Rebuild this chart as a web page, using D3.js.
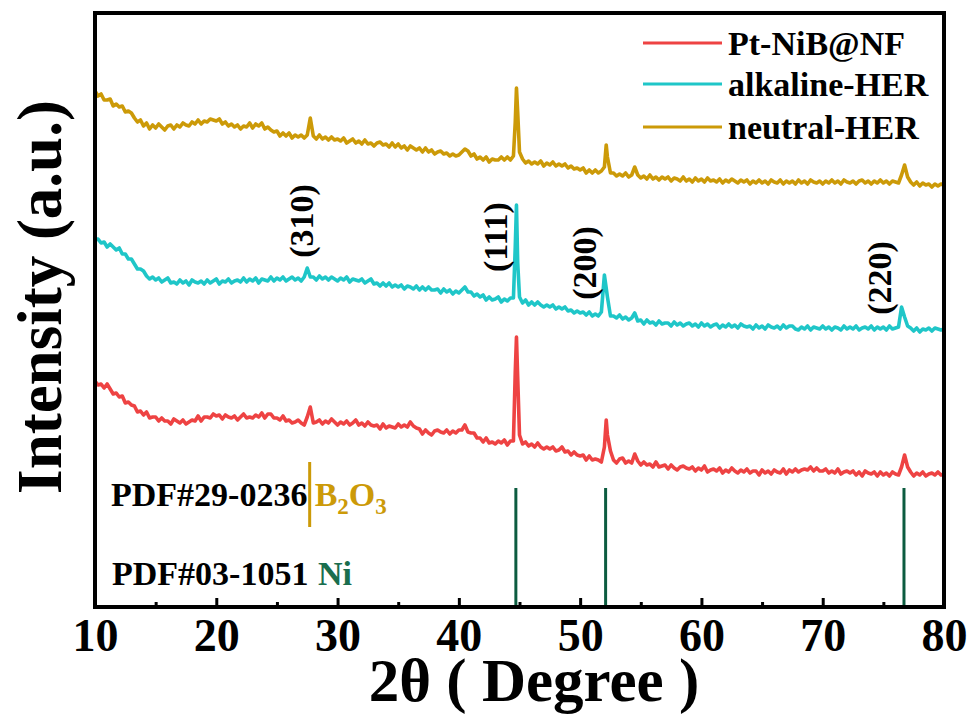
<!DOCTYPE html>
<html>
<head>
<meta charset="utf-8">
<script src="https://cdn.jsdelivr.net/npm/d3@7"></script>
<style>
  html, body { margin: 0; padding: 0; background: #fff; }
  svg text { font-family: "Liberation Serif", "Times New Roman", serif; font-weight: bold; }
</style>
</head>
<body>
<svg id="chart" width="972" height="717"></svg>
<script>
// XRD patterns, 2θ sampled every 0.25° from 10° to 80° (intensity in a.u., stacked)
const angleStart = 10, angleStep = 0.25;

const ptNiB = [
  226,222,223,219,223,218,213,214,210,211,204,205,202,201,195,196,192,195,189,190,
  190,186,189,186,186,183,188,186,184,187,183,185,187,186,191,186,190,190,189,193,
  191,192,188,192,190,189,191,187,190,193,189,190,189,192,190,194,189,193,193,189,
  189,187,191,186,187,184,185,187,184,182,190,200,184,185,187,183,186,184,188,185,
  182,185,183,186,182,184,187,182,184,181,185,182,181,182,178,183,179,181,180,179,
  183,180,182,180,185,181,179,178,173,177,174,172,176,177,175,174,177,173,176,174,
  177,177,182,175,174,174,169,169,165,169,164,165,163,166,164,167,162,166,166,270,
  172,163,165,161,163,160,164,160,158,160,158,160,156,157,160,155,156,152,155,152,
  151,152,147,151,147,148,147,145,160,172,156,147,144,148,149,144,146,144,153,146,
  142,145,142,143,140,145,140,141,142,138,142,139,137,140,141,139,138,140,136,139,
  137,141,135,137,138,136,139,134,137,135,139,136,134,137,135,138,134,136,136,132,
  137,134,136,133,137,135,134,138,133,137,135,138,135,137,138,137,140,136,139,136,
  136,138,134,136,134,138,133,135,136,134,136,132,135,131,136,134,133,135,131,135,
  132,134,131,135,133,132,140,152,140,135,131,134,132,135,131,133,134,132,135,132,
  133
];
// extra points resolving the sharp reflections
const ptNiBPeaks = [[44.65,235],[44.85,230],[52.15,187]];

const alkaline = [
  367,368,364,365,360,363,360,357,359,353,353,348,348,343,338,338,336,331,328,330,
  327,329,325,327,329,324,325,323,327,324,326,322,327,325,324,326,323,327,324,326,
  328,323,326,325,328,324,326,327,325,329,325,328,326,329,324,328,327,326,330,326,
  329,327,330,326,328,330,327,329,326,330,339,330,330,327,331,328,330,327,330,328,
  326,329,327,330,325,328,327,326,328,324,326,328,323,324,321,324,321,324,320,322,
  320,322,318,321,320,318,321,317,320,317,320,317,317,318,314,318,315,317,313,316,
  314,317,320,315,315,311,313,310,312,307,310,307,308,310,305,308,306,309,309,402,
  310,304,307,302,305,302,305,302,300,302,300,302,298,300,298,300,296,297,294,296,
  294,295,292,295,291,293,291,295,332,310,291,291,289,292,288,290,287,289,294,286,
  287,283,287,284,285,282,286,283,284,284,281,285,282,284,281,283,284,281,283,280,
  284,281,283,280,282,283,279,282,280,283,280,282,279,283,281,280,281,278,282,279,
  281,278,282,280,279,281,278,282,279,281,281,278,277,280,278,281,277,280,279,278,
  281,278,280,277,280,279,277,281,278,280,278,281,277,279,280,278,281,277,280,278,
  280,277,281,278,279,280,300,290,281,279,276,279,275,278,277,279,276,279,278,277,
  278
];
const alkalinePeaks = [[44.65,360],[44.85,345]];

const neutral = [
  516,511,513,507,507,508,501,503,500,501,495,496,494,489,485,487,481,484,478,482,
  479,483,480,477,481,482,478,482,480,484,482,481,485,483,487,483,486,485,488,487,
  486,488,483,485,481,483,480,482,478,481,480,484,479,483,481,484,478,480,477,475,
  476,471,474,471,474,469,472,470,472,469,472,489,471,468,472,468,470,467,470,467,
  468,466,469,464,466,468,464,466,463,467,463,464,461,464,465,462,463,460,464,460,
  463,459,461,457,461,459,457,459,455,459,455,457,453,455,456,453,454,451,453,451,
  452,455,458,456,451,453,448,450,447,450,445,448,447,447,450,447,450,447,451,519,
  455,448,444,446,443,445,443,446,441,444,442,445,441,443,441,443,439,441,438,439,
  437,439,434,437,434,437,434,436,440,450,434,434,431,433,431,434,430,432,440,432,
  429,431,428,432,428,430,427,430,428,430,426,429,428,426,430,426,428,425,429,426,
  428,425,429,426,427,425,428,424,427,425,428,426,424,427,425,427,423,426,424,427,
  424,426,423,427,425,424,427,423,426,424,426,423,427,424,426,423,427,425,424,426,
  423,426,424,427,424,426,423,427,425,424,426,423,426,427,424,426,423,426,424,427,
  424,426,423,426,425,424,432,442,430,425,422,425,421,424,422,423,420,423,421,423,
  422
];
const neutralPeaks = [[44.65,485],[44.85,495],[52.15,462]];

const seriesNames = ["Pt-NiB@NF", "alkaline-HER", "neutral-HER"];
const seriesColors = ["#ee4343", "#1fc6c8", "#cc9a08"];

// Standard reference patterns
const niLines = [44.7, 52.1, 76.7];       // PDF#03-1051 Ni
const niLineTop = 119;
const b2o3Lines = [27.7];                 // PDF#29-0236 B2O3
const b2o3Range = [80, 145];

// Miller index annotations: [label, 2θ, intensity]
const hklLabels = [["(310)", 27.05, 386], ["(111)", 43.0, 370], ["(200)", 50.35, 344], ["(220)", 74.65, 329]];

const xTicks = [10, 20, 30, 40, 50, 60, 70, 80];
const xMinorTicks = [15, 25, 35, 45, 55, 65, 75];

function buildSeries(values, peaks) {
  const pts = values.map((v, i) => [angleStart + i * angleStep, v]);
  return pts.concat(peaks).sort((a, b) => a[0] - b[0]);
}
const allSeries = [
  buildSeries(ptNiB, ptNiBPeaks),
  buildSeries(alkaline, alkalinePeaks),
  buildSeries(neutral, neutralPeaks)
];

const svg = d3.select("#chart");
const plotLeft = 95, plotRight = 944, plotTop = 13, plotBottom = 607;

const x = d3.scaleLinear().domain([10, 80]).range([plotLeft, plotRight]);
const y = d3.scaleLinear().domain([0, 594]).range([plotBottom, plotTop]);

svg.append("defs").append("clipPath").attr("id", "plotClip")
  .append("rect").attr("x", plotLeft).attr("y", plotTop)
  .attr("width", plotRight - plotLeft).attr("height", plotBottom - plotTop);

const line = d3.line().x(d => x(d[0])).y(d => y(d[1]));

const plot = svg.append("g").attr("clip-path", "url(#plotClip)");
allSeries.forEach((s, i) => {
  plot.append("path")
    .datum(s)
    .attr("fill", "none")
    .attr("stroke", seriesColors[i])
    .attr("stroke-width", 3.6)
    .attr("stroke-linejoin", "round")
    .attr("d", line);
});

// Reference sticks
plot.selectAll("line.ni").data(niLines).join("line")
  .attr("class", "ni")
  .attr("x1", d => x(d)).attr("x2", d => x(d))
  .attr("y1", y(niLineTop)).attr("y2", y(0))
  .attr("stroke", "#0c5c40").attr("stroke-width", 3);
plot.selectAll("line.b2o3").data(b2o3Lines).join("line")
  .attr("class", "b2o3")
  .attr("x1", d => x(d)).attr("x2", d => x(d))
  .attr("y1", y(b2o3Range[1])).attr("y2", y(b2o3Range[0]))
  .attr("stroke", "#cc9a08").attr("stroke-width", 3);

// Reference labels
svg.append("text").attr("x", 111).attr("y", 506).attr("font-size", 34).attr("fill", "#000").text("PDF#29-0236");
const b2o3Text = svg.append("text").attr("x", x(b2o3Lines[0]) + 5).attr("y", 506).attr("font-size", 34).attr("fill", "#cc9a08");
b2o3Text.append("tspan").text("B");
b2o3Text.append("tspan").attr("font-size", 23).attr("dy", 8).text("2");
b2o3Text.append("tspan").attr("dy", -8).text("O");
b2o3Text.append("tspan").attr("font-size", 23).attr("dy", 8).text("3");

svg.append("text").attr("x", 112).attr("y", 585).attr("font-size", 34).attr("fill", "#000").text("PDF#03-1051");
svg.append("text").attr("x", 318).attr("y", 585).attr("font-size", 34).attr("fill", "#1a6e4e").text("Ni");

// hkl labels
svg.selectAll("text.hkl").data(hklLabels).join("text")
  .attr("class", "hkl")
  .attr("font-size", 34)
  .attr("text-anchor", "middle")
  .attr("dominant-baseline", "central")
  .attr("transform", d => `translate(${x(d[1])},${y(d[2])}) rotate(-90)`)
  .text(d => d[0]);

// X axis: ticks point inward
const xAxis = svg.append("g").attr("transform", `translate(0,${plotBottom})`)
  .call(d3.axisBottom(x).tickValues(xTicks).tickSize(-9).tickPadding(11).tickFormat(d3.format("d")));
xAxis.select(".domain").remove();
xAxis.selectAll(".tick line").attr("stroke", "#000").attr("stroke-width", 3);
xAxis.selectAll(".tick text").attr("font-size", 46).attr("fill", "#000")
  .attr("font-family", "Liberation Serif, Times New Roman, serif").attr("font-weight", "bold");

const xMinor = svg.append("g").attr("transform", `translate(0,${plotBottom})`)
  .call(d3.axisBottom(x).tickValues(xMinorTicks).tickSize(-5).tickFormat(""));
xMinor.select(".domain").remove();
xMinor.selectAll(".tick line").attr("stroke", "#000").attr("stroke-width", 3);

// Frame
svg.append("rect").attr("x", plotLeft).attr("y", plotTop)
  .attr("width", plotRight - plotLeft).attr("height", plotBottom - plotTop)
  .attr("fill", "none").attr("stroke", "#000").attr("stroke-width", 4);

// Axis titles
svg.append("text").attr("x", 534).attr("y", 701).attr("text-anchor", "middle").attr("font-size", 61)
  .attr("fill", "#000").text("2θ ( Degree )");
svg.append("text").attr("transform", "translate(61,297) rotate(-90)").attr("text-anchor", "middle")
  .attr("font-size", 63).attr("fill", "#000").text("Intensity (a.u.)");

// Legend
const legendY = [43, 84, 127];
seriesNames.forEach((name, i) => {
  svg.append("line").attr("x1", 643).attr("x2", 722).attr("y1", legendY[i]).attr("y2", legendY[i])
    .attr("stroke", seriesColors[i]).attr("stroke-width", 3);
  svg.append("text").attr("x", 728).attr("y", legendY[i]).attr("dy", "0.35em")
    .attr("font-size", 34).attr("fill", "#000").text(name);
});
</script>
</body>
</html>
